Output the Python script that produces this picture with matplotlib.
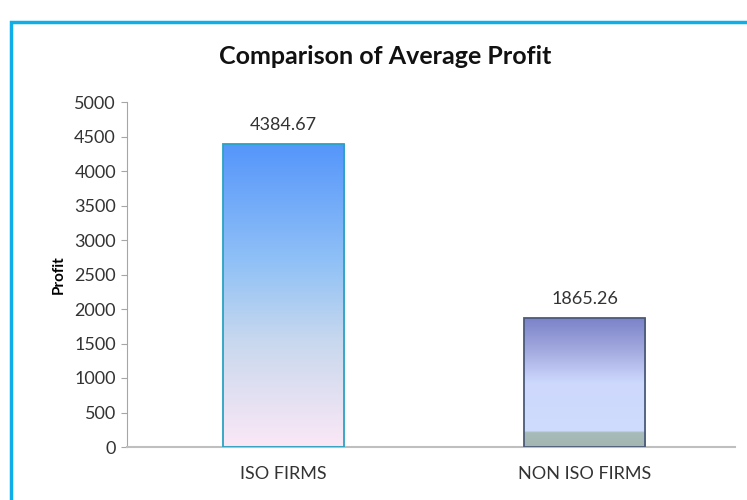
import matplotlib
matplotlib.use("Agg")
import matplotlib.pyplot as plt
import numpy as np
from matplotlib.colors import LinearSegmentedColormap
from matplotlib.patches import Rectangle

categories = ["ISO FIRMS", "NON ISO FIRMS"]
profits = [4384.67, 1865.26]
value_labels = ["4384.67", "1865.26"]
y_ticks = [0, 500, 1000, 1500, 2000, 2500, 3000, 3500, 4000, 4500, 5000]

plt.rcParams['font.family'] = ['Lato', 'DejaVu Sans']

fig = plt.figure(figsize=(7.47, 5.0), dpi=100)
ax = fig.add_axes([127 / 747, 1 - 447 / 500, (735 - 127) / 747, (447 - 102) / 500])

# gradient colormaps (bottom -> top)
iso_cmap = LinearSegmentedColormap.from_list(
    "iso", [(0.0, "#fbe8f6"), (0.35, "#c8d8ee"), (0.6, "#92c2f6"), (1.0, "#5596fb")])
non_cmap = LinearSegmentedColormap.from_list(
    "non", [(0.0, "#a3b6b2"), (0.11, "#a7bbb8"), (0.125, "#cfdcfc"), (0.5, "#cdd8fd"),
            (0.75, "#a3aadf"), (1.0, "#7c83c9")])
cmaps = [iso_cmap, non_cmap]
edges = ["#2aa3c4", "#4b5b7a"]

x = np.arange(len(categories))
bars = ax.bar(x, profits, width=0.404, color="none", edgecolor="none", zorder=2)
grad = np.linspace(0, 1, 256).reshape(-1, 1)
for b, cm, ec, lab in zip(bars, cmaps, edges, value_labels):
    x0, w, h = b.get_x(), b.get_width(), b.get_height()
    ax.imshow(grad, cmap=cm, origin="lower", aspect="auto",
              extent=[x0, x0 + w, 0, h], zorder=2)
    ax.add_patch(Rectangle((x0, 0), w, h, fill=False, edgecolor=ec, lw=1.3, zorder=3))
    ax.text(x0 + w / 2, h + 160, lab, ha="center", va="bottom", fontsize=13, color="#333333")

ax.set_xlim(-0.52, 1.5)
ax.set_ylim(0, 5000)
ax.set_yticks(y_ticks)
ax.set_xticks(x)
ax.set_xticklabels(categories)
ax.tick_params(axis="y", length=4, color="#a6a6a6", labelsize=13, labelcolor="#333333", pad=4)
ax.tick_params(axis="x", length=0, labelsize=13, labelcolor="#333333", pad=14)
for s in ["top", "right"]:
    ax.spines[s].set_visible(False)
ax.spines["left"].set_color("#a6a6a6")
ax.spines["bottom"].set_color("#bfbfbf")
ax.spines["bottom"].set_linewidth(1.5)
ax.set_ylabel("Profit", fontsize=11, fontweight="bold", labelpad=6)

fig.text(385 / 747, 1 - 56 / 500, "Comparison of Average Profit", ha="center", va="center",
         fontsize=18, fontweight="bold", color="#111111")

# cyan frame around the chart
fig.add_artist(Rectangle((11 / 747, -0.1), 1.2, (500 - 22) / 500 + 0.1, transform=fig.transFigure,
                         fill=False, edgecolor="#10aee8", lw=2.5, clip_on=False))

fig.savefig("out.png", dpi=100)
